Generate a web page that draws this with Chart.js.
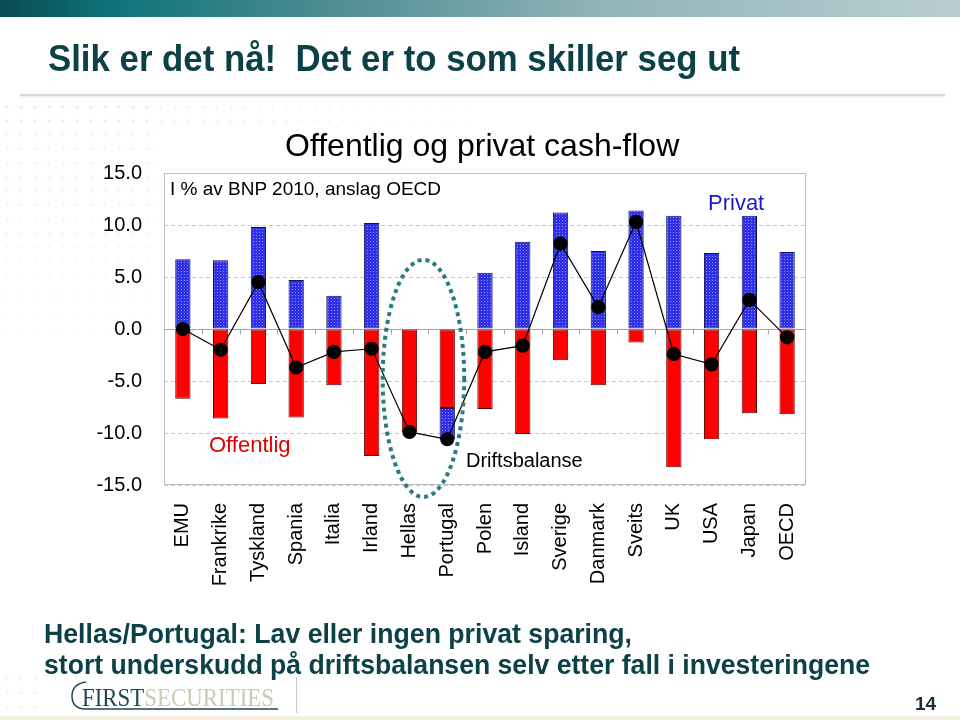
<!DOCTYPE html>
<html>
<head>
<meta charset="utf-8">
<script src="https://cdn.jsdelivr.net/npm/chart.js@4.4.1/dist/chart.umd.min.js"></script>
<style>
  body { margin: 0; width: 960px; height: 720px; position: relative; overflow: hidden; background: #fff;
         font-family: "Liberation Sans", Arial, sans-serif; }
  .abs { position: absolute; white-space: nowrap; line-height: 1; }
  .fit { transform-origin: left top; }
  #topbar { left: 0; top: 0; width: 960px; height: 17px;
            background: linear-gradient(to right, #0b4a52 0%, #0e747a 12%, #4f8d93 35%, #8fb3b8 62%, #b9ced2 100%); }
  #title { left: 48px; top: 40px; font-size: 37px; font-weight: bold; color: #0c4148; }
  #rule { left: 20px; top: 94px; width: 925px; height: 2px; background: #d8d8ce; box-shadow: 0 1px 2px #e8e8e2; }
  .cross { opacity: 0.55; background-image: url("data:image/svg+xml;utf8,<svg xmlns='http://www.w3.org/2000/svg' width='14' height='14'><path d='M7 5v4M5 7h4' stroke='%23e4e4e4' stroke-width='1'/></svg>"); }
  #cross1 { left: 0; top: 100px; width: 520px; height: 28px; -webkit-mask-image: linear-gradient(to right, #000 40%, transparent); }
  #cross2 { left: 0; top: 100px; width: 160px; height: 280px; -webkit-mask-image: linear-gradient(to bottom, #000 30%, transparent); }
  #cross3 { left: 0; top: 672px; width: 44px; height: 44px; }
  #c { position: absolute; left: 0; top: 0; }
  #ctitle { left: 285px; top: 129px; font-size: 32px; color: #000; }
  #sub { left: 170px; top: 179px; font-size: 19px; color: #000; }
  #privat { left: 708px; top: 192px; font-size: 22px; color: #1a1acc; }
  #offentlig { left: 209px; top: 434px; font-size: 22px; color: #e00000; }
  #drift { left: 466px; top: 450px; font-size: 20px; color: #000; }
  .note { left: 44px; font-size: 28px; font-weight: bold; color: #0c4148; }
  #note1 { top: 620px; }
  #note2 { top: 651px; }
  #logo { left: 82px; top: 685px; font-family: "Liberation Serif", "DejaVu Serif", serif; font-size: 26px; }
  #logo .a { color: #1e4a55; }
  #logo .b { color: #cdc8b2; }
  #vline { left: 296px; top: 677px; width: 1px; height: 36px; background: #c3cbce; }
  #page { left: 915px; top: 694px; font-size: 19px; font-weight: bold; color: #15303a; }
  #bottom { left: 0; top: 716px; width: 960px; height: 4px; background: #f5f1e2; }
</style>
</head>
<body>
<div id="topbar" class="abs"></div>
<div id="title" class="abs fit" data-w="692">Slik er det nå!&nbsp; Det er to som skiller seg ut</div>
<div id="rule" class="abs"></div>
<div id="cross1" class="abs cross"></div>
<div id="cross2" class="abs cross"></div>
<div id="cross3" class="abs cross"></div>

<canvas id="c" width="960" height="600"></canvas>

<div id="ctitle" class="abs">Offentlig og privat cash-flow</div>
<div id="sub" class="abs">I % av BNP 2010, anslag OECD</div>
<div id="privat" class="abs">Privat</div>
<div id="offentlig" class="abs">Offentlig</div>
<div id="drift" class="abs">Driftsbalanse</div>

<div id="note1" class="abs note fit" data-w="588">Hellas/Portugal: Lav eller ingen privat sparing,</div>
<div id="note2" class="abs note fit" data-w="826">stort underskudd på driftsbalansen selv etter fall i investeringene</div>

<svg class="abs" style="left:0;top:0" width="960" height="720">
  <path d="M86 682 Q72 684 72 696 Q72 709 86 709 L278 709" fill="none" stroke="#1e4a55" stroke-width="1.5"/>
</svg>
<div id="logo" class="abs fit" data-w="192"><span class="a">FIRST</span><span class="b">SECURITIES</span></div>
<div id="vline" class="abs"></div>
<div id="page" class="abs">14</div>
<div id="bottom" class="abs"></div>

<script>
// data, % av BNP 2010 (anslag OECD)
const countries = ['EMU', 'Frankrike', 'Tyskland', 'Spania', 'Italia', 'Irland', 'Hellas', 'Portugal', 'Polen',
    'Island', 'Sverige', 'Danmark', 'Sveits', 'UK', 'USA', 'Japan', 'OECD'];
const offentlig = [-6.7, -8.6, -5.3, -8.5, -5.4, -12.2, -9.9, -7.6, -7.7, -10.1, -3.0, -5.4, -1.3, -13.3, -10.6, -8.1, -8.2];
const privat = [6.7, 6.6, 9.8, 4.7, 3.2, 10.2, null, -3.0, 5.4, 8.4, 11.2, 7.5, 11.4, 10.9, 7.3, 10.9, 7.4];
const driftsbalanse = [0.0, -2.0, 4.5, -3.7, -2.2, -1.9, -9.9, -10.6, -2.2, -1.6, 8.2, 2.1, 10.3, -2.4, -3.4, 2.8, -0.8];
const yMin = -15;
const yMax = 15;
const yStep = 5;

// squeeze the condensed headline texts to their widths
document.querySelectorAll('.fit').forEach(el => {
    const w = el.getBoundingClientRect().width;
    el.style.transform = 'scaleX(' + (el.dataset.w / w) + ')';
});

// dotted blue fill like the original
function dotPattern() {
    const t = document.createElement('canvas');
    t.width = 3; t.height = 3;
    const g = t.getContext('2d');
    g.fillStyle = '#3030e6';
    g.fillRect(0, 0, 3, 3);
    g.fillStyle = '#8a8aff';
    g.fillRect(1, 1, 1, 1);
    return g.createPattern(t, 'repeat');
}

const frame = {
    id: 'frame',
    beforeDatasetsDraw(chart) {
        const { ctx, chartArea: a, scales: { x, y } } = chart;
        ctx.save();
        ctx.lineWidth = 1;
        ctx.strokeStyle = '#bdbdbd';
        ctx.strokeRect(a.left + 0.5, a.top + 0.5, a.right - a.left - 1, a.bottom - a.top - 1);

        // zero line with small category ticks
        const y0 = Math.round(y.getPixelForValue(0)) + 0.5;
        ctx.strokeStyle = '#a6a6a6';
        ctx.beginPath();
        ctx.moveTo(a.left, y0);
        ctx.lineTo(a.right, y0);
        for (let i = 1; i < countries.length; i++) {
            const px = Math.round(x.getPixelForValue(i - 0.5)) + 0.5;
            ctx.moveTo(px, y0);
            ctx.lineTo(px, y0 + 5);
        }
        ctx.stroke();
        ctx.restore();
    },
    afterDatasetsDraw(chart) {
        // dotted ring round Hellas / Portugal
        const { ctx, scales: { x, y } } = chart;
        const cx = x.getPixelForValue(6.37);
        const cy = y.getPixelForValue(-4.75);
        const rx = x.getPixelForValue(1.08) - x.getPixelForValue(0);
        const ry = y.getPixelForValue(0) - y.getPixelForValue(11.4);
        ctx.save();
        ctx.strokeStyle = '#2b7b7e';
        ctx.lineWidth = 4;
        ctx.setLineDash([4, 4]);
        ctx.beginPath();
        ctx.ellipse(cx, cy, rx, ry, 0, 0, Math.PI * 2);
        ctx.stroke();
        ctx.restore();
    }
};

const canvas = document.getElementById('c');
const blue = dotPattern();

new Chart(canvas, {
    type: 'bar',
    data: {
        labels: countries,
        datasets: [
            {
                label: 'Offentlig',
                data: offentlig,
                backgroundColor: '#ff0000',
                borderColor: '#5a0000',
                borderWidth: 1,
                borderSkipped: false,
                order: 2,
            },
            {
                label: 'Privat',
                data: privat,
                backgroundColor: blue,
                borderColor: '#10105a',
                borderWidth: 1,
                borderSkipped: false,
                order: 2,
            },
            {
                type: 'line',
                label: 'Driftsbalanse',
                data: driftsbalanse,
                stack: 'drift',
                borderColor: '#000',
                borderWidth: 1.2,
                pointRadius: 6.5,
                pointBackgroundColor: '#000',
                pointBorderColor: '#000',
                tension: 0,
                order: 0,
            },
        ],
    },
    options: {
        responsive: false,
        animation: false,
        layout: { padding: { top: 173, right: 154, left: 0, bottom: 0 } },
        datasets: { bar: { categoryPercentage: 1, barPercentage: 0.405 } },
        scales: {
            x: {
                stacked: true,
                grid: { display: false, drawTicks: false },
                border: { display: false },
                ticks: {
                    autoSkip: false,
                    minRotation: 90,
                    maxRotation: 90,
                    padding: 18,
                    color: '#000',
                    font: { family: 'Liberation Sans', size: 20 },
                },
                afterFit(s) { s.height = 115; },
            },
            y: {
                stacked: true,
                min: yMin,
                max: yMax,
                grid: { color: '#c8c8c8', drawTicks: false },
                border: { display: false, dash: [4, 3] },
                ticks: {
                    stepSize: yStep,
                    padding: 22,
                    color: '#000',
                    font: { family: 'Liberation Sans', size: 20 },
                    callback: v => v.toFixed(1),
                },
                afterFit(s) { s.width = 164; },
            },
        },
        plugins: {
            legend: { display: false },
            tooltip: { enabled: false },
        },
    },
    plugins: [frame],
});
</script>
</body>
</html>
